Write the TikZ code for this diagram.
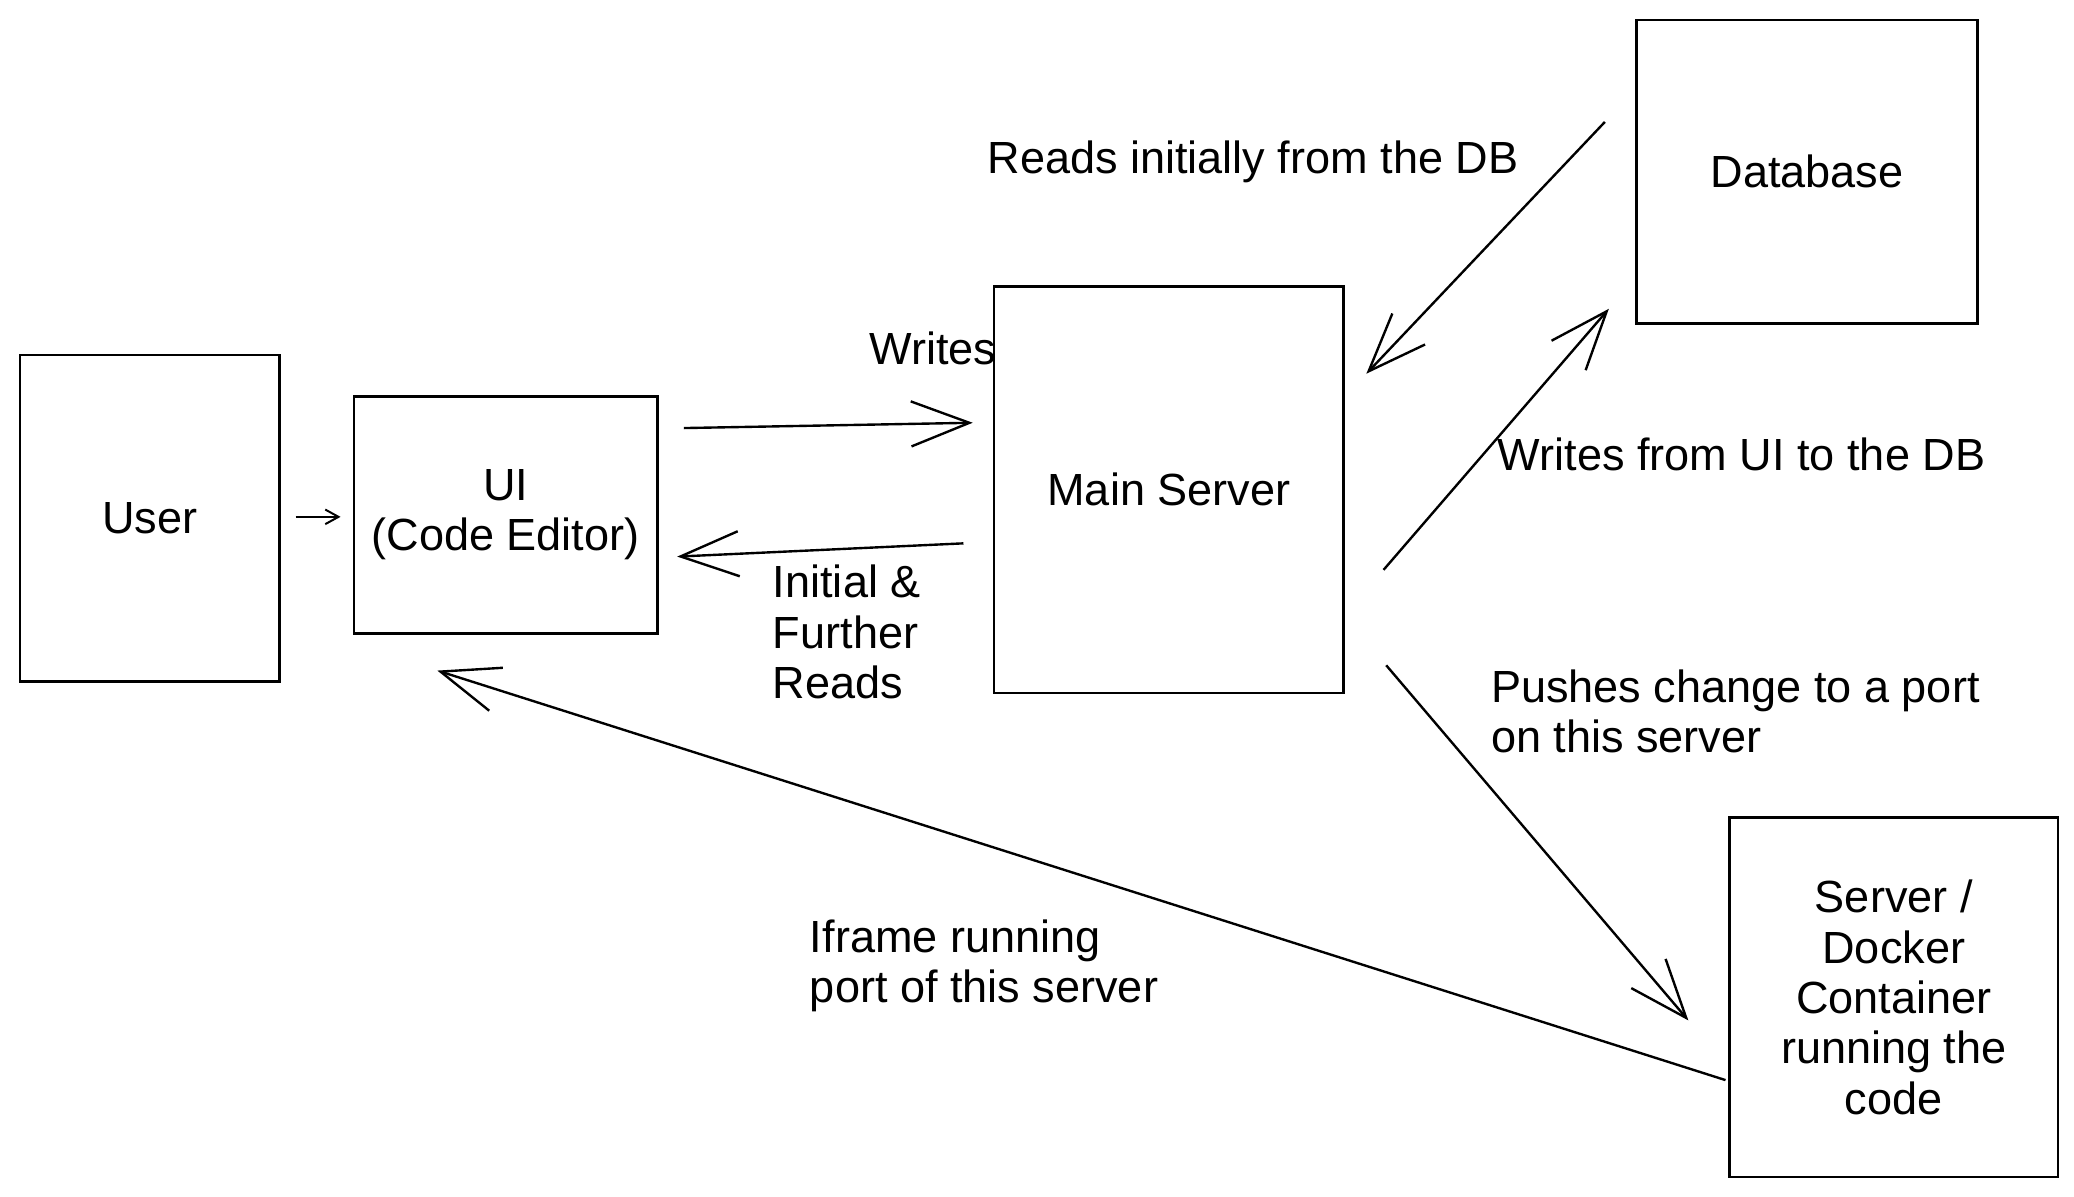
\documentclass[tikz,border=0pt]{standalone}
\usepackage{fontspec}
\setmainfont{Liberation Sans}
\usetikzlibrary{arrows.meta}
\begin{document}
\begin{tikzpicture}[x=1pt,y=-1pt,
  box/.style={draw, line width=2pt, rectangle, inner sep=0pt, align=center,
    font=\fontsize{34}{38}\selectfont},
  lbl/.style={inner sep=0pt, align=left, anchor=west, font=\fontsize{34}{38}\selectfont},
  arr/.style={line width=1.8pt, -{Straight Barb[length=44pt,width=34pt,line width=1.8pt]}},
  sarr/.style={line width=1.5pt, -{Straight Barb[length=10pt,width=11pt,line width=1.5pt]}}]
\useasboundingbox (0,0) rectangle (1565,902.5);

% boxes
\node[box, minimum width=196pt, minimum height=246pt] (user) at (113,391) {User};
\node[box, minimum width=229pt, minimum height=179pt] (ui) at (381.5,388.5) {UI\\(Code Editor)};
\node[box, minimum width=264pt, minimum height=307pt] (main) at (882,369.5) {Main Server};
\node[box, minimum width=257pt, minimum height=229pt] (db) at (1363.5,129.5) {Database};
\node[box, minimum width=248pt, minimum height=271pt] (dock) at (1429,752.5) {Server /\\Docker\\Container\\running the\\code};

% connectors
\draw[sarr] ([shift={(11,-1)}]user.east) -- ([shift={(-9,1.5)}]ui.west);
\draw[arr] ([shift={(19,-65.5)}]ui.east) -- ([shift={(-15,-50.5)}]main.west);
\draw[arr] ([shift={(-22,40.5)}]main.west) -- ([shift={(14,31.5)}]ui.east);
\draw[arr] ([shift={(-23,-37.5)}]db.west) -- ([shift={(16,-87.5)}]main.east);
\draw[arr] ([shift={(29,60.5)}]main.east) -- ([shift={(-20,-12)}]db.south west);
\draw[arr] ([shift={(31,132.5)}]main.east) -- ([shift={(-30,17.5)}]dock.west);
\draw[arr] ([shift={(-2,62.5)}]dock.west) -- ([shift={(-51.5,27)}]ui.south);

% labels
\node[lbl, anchor=east] (lw) at (752,263) {Writes};
\node[lbl] (lr) at (583,477) {Initial \&\\Further\\Reads};
\node[lbl] (ldb) at (745,122) {Reads initially from the DB};
\node[lbl] (lwd) at (1130,343) {Writes from UI to the DB};
\node[lbl] (lp) at (1125,537) {Pushes change to a port\\on this server};
\node[lbl] (li) at (611,729) {Iframe running\\port of this server};
\end{tikzpicture}
\end{document}
